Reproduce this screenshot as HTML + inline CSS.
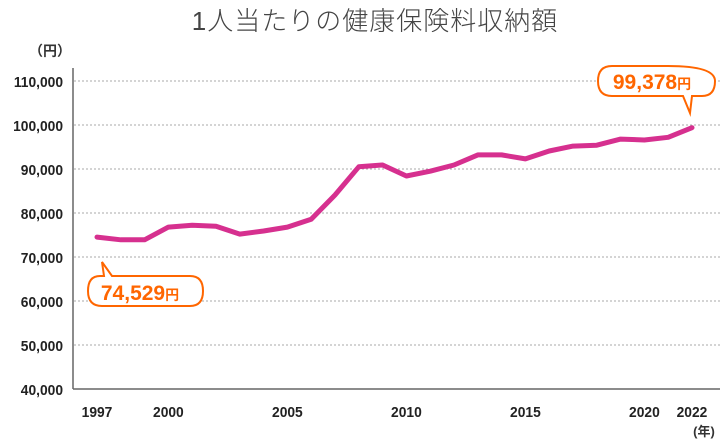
<!DOCTYPE html>
<html><head><meta charset="utf-8"><style>
body{margin:0;background:#fff;}
svg text{font-family:"Liberation Sans","Noto Sans CJK JP",sans-serif;}
</style></head><body>
<svg width="720" height="440" viewBox="0 0 720 440" id="chart">
<text x="375" y="30" text-anchor="middle" font-size="26" font-weight="300" fill="#444" font-family="'Noto Sans CJK JP',sans-serif" letter-spacing="1">1人当たりの健康保険料収納額</text>
<text x="50" y="56" text-anchor="middle" font-size="14" font-weight="bold" fill="#333">（円）</text>
<text x="704" y="436" text-anchor="middle" font-size="13" font-weight="bold" fill="#333">(年)</text>
<g id="grid"></g><g id="yt"></g><g id="xt"></g>
<line x1="73" y1="68" x2="73" y2="389" stroke="#666" stroke-width="1.5"/>
<line x1="73" y1="389" x2="720" y2="389" stroke="#666" stroke-width="1.5"/>
<path id="line" fill="none" stroke="#d6308f" stroke-width="5" stroke-linejoin="round" stroke-linecap="round"/>
<g>
<path d="M102,262 L112,276 L190,276 Q203,276 203,291 Q203,306 190,306 L102,306 Q88,306 88,291 Q88,276 100,276 L104,276 Z" fill="#fff" stroke="#ff6600" stroke-width="2"/>
<text x="140" y="300" text-anchor="middle" font-size="21" font-weight="bold" fill="#ff6600">74,529<tspan font-size="14">円</tspan></text>
</g>
<g>
<path d="M612,66 L668,66 Q715,66 715,81 Q715,96 702,96 L692,96 L690,113 L683,96 L612,96 Q598,96 598,81 Q598,66 612,66 Z" fill="#fff" stroke="#ff6600" stroke-width="2"/>
<text x="652" y="89" text-anchor="middle" font-size="21" font-weight="bold" fill="#ff6600">99,378<tspan font-size="14">円</tspan></text>
</g>
</svg>
<script>
const years=[1997,1998,1999,2000,2001,2002,2003,2004,2005,2006,2007,2008,2009,2010,2011,2012,2013,2014,2015,2016,2017,2018,2019,2020,2021,2022];
const values=[74529,73900,73900,76800,77200,77000,75200,75900,76800,78600,84100,90500,90900,88400,89500,90900,93200,93200,92300,94100,95200,95400,96800,96600,97200,99378];
const yTicks=[40000,50000,60000,70000,80000,90000,100000,110000];
const xTicks=[1997,2000,2005,2010,2015,2020,2022];
const ns="http://www.w3.org/2000/svg";
const xs=y=>97+(y-1997)*(692-97)/25;
const ys=v=>389-(v-40000)*44/10000;
function mk(t,a,p){const e=document.createElementNS(ns,t);for(const k in a)e.setAttribute(k,a[k]);document.getElementById(p).appendChild(e);return e;}
yTicks.forEach(v=>{
 if(v>40000){const g=mk('line',{x1:74,x2:720,y1:ys(v),y2:ys(v),stroke:'#aaa','stroke-dasharray':'2,2'},'grid');
 
 }
 const t=mk('text',{x:63,y:ys(v)+6,'text-anchor':'end','font-size':15,'font-weight':'bold',fill:'#222',textLength:'',},'yt');
 t.removeAttribute('textLength');
 
 
 t.setAttribute('transform','translate('+(63*0.08)+',0) scale(0.92,1)');
 t.textContent=v.toLocaleString('en-US');
});
xTicks.forEach(y=>{
 const t=mk('text',{x:xs(y)/0.92,y:417,'text-anchor':'middle','font-size':15,'font-weight':'bold',fill:'#222',transform:'scale(0.92,1)'},'xt');
 
 
 t.textContent=y;
});
document.getElementById('line').setAttribute('d',years.map((y,i)=>(i?'L':'M')+xs(y).toFixed(1)+','+ys(values[i]).toFixed(1)).join(' '));
</script>
</body></html>
